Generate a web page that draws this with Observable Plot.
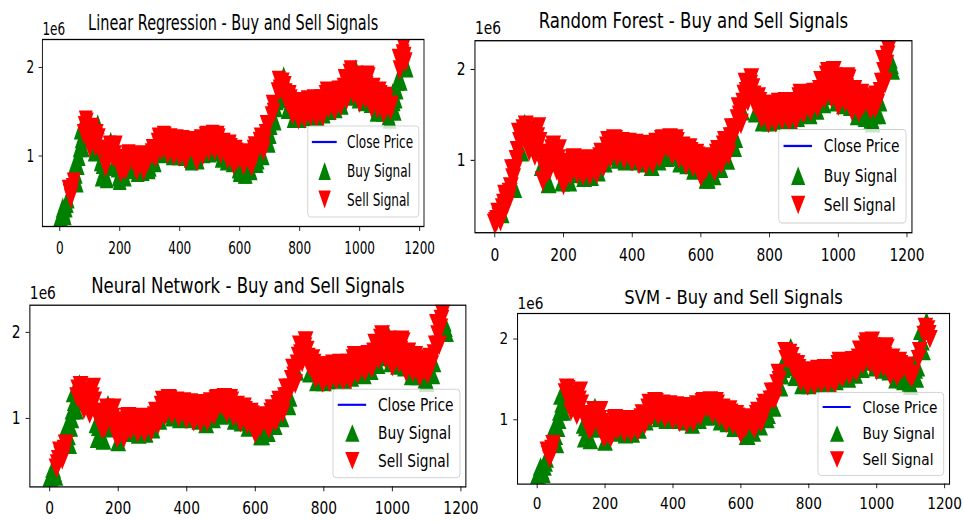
<!DOCTYPE html>
<html>
<head>
<meta charset="utf-8">
<script src="https://cdn.jsdelivr.net/npm/d3@7"></script>
<script src="https://cdn.jsdelivr.net/npm/@observablehq/plot@0.6"></script>
<style>
  body { margin: 0; background: #fff; }
  #fig { position: relative; width: 963px; height: 522px; overflow: hidden; background: #fff; font-family: "DejaVu Sans", sans-serif; }
  .panel { position: absolute; transform-origin: 0 0; }
  .panel svg { max-width: none !important; background: transparent !important; overflow: visible; }
</style>
</head>
<body>
<div id="fig"></div>
<script>
// ---- data: close price (units of 1e6): low, middle and high close in each 10-day window ----
const windowStep = 10;
const windowLow = [
  0.30, 0.33, 0.42, 0.52, 0.58, 0.70, 0.90, 1.10, 1.25, 1.20,
  1.10, 1.05, 1.10, 0.94, 0.77, 0.75, 0.89, 0.99, 0.89, 0.77,
  0.73, 0.77, 0.84, 0.86, 0.85, 0.83, 0.82, 0.83, 0.83, 0.85,
  0.88, 0.93, 0.98, 1.03, 1.06, 1.04, 1.02, 1.01, 1.00, 1.01,
  0.99, 1.00, 0.96, 0.98, 0.95, 0.94, 0.96, 1.00, 1.03, 1.05,
  1.04, 1.06, 1.05, 1.02, 0.98, 0.95, 0.96, 0.93, 0.90, 0.86,
  0.82, 0.80, 0.80, 0.84, 0.88, 0.92, 0.96, 1.01, 1.06, 1.15,
  1.25, 1.40, 1.55, 1.65, 1.75, 1.61, 1.53, 1.46, 1.43, 1.41,
  1.43, 1.42, 1.45, 1.44, 1.46, 1.43, 1.45, 1.44, 1.48, 1.53,
  1.52, 1.51, 1.54, 1.56, 1.58, 1.63, 1.68, 1.72, 1.69, 1.65,
  1.60, 1.62, 1.64, 1.60, 1.54, 1.50, 1.53, 1.50, 1.48, 1.46,
  1.42, 1.51, 1.65, 1.85, 2.05, 2.00
];
const windowMid = [
  0.32, 0.37, 0.47, 0.57, 0.64, 0.80, 1.00, 1.20, 1.34, 1.30,
  1.22, 1.18, 1.25, 1.07, 0.91, 0.87, 1.03, 1.09, 1.01, 0.87,
  0.81, 0.86, 0.93, 0.94, 0.93, 0.91, 0.90, 0.91, 0.90, 0.93,
  0.96, 1.01, 1.07, 1.12, 1.15, 1.13, 1.11, 1.11, 1.09, 1.10,
  1.08, 1.09, 1.06, 1.08, 1.04, 1.03, 1.06, 1.10, 1.13, 1.15,
  1.14, 1.16, 1.15, 1.11, 1.07, 1.04, 1.05, 1.01, 0.98, 0.95,
  0.91, 0.89, 0.88, 0.93, 0.97, 1.01, 1.06, 1.11, 1.16, 1.25,
  1.35, 1.49, 1.63, 1.75, 1.83, 1.71, 1.62, 1.56, 1.53, 1.51,
  1.53, 1.51, 1.55, 1.54, 1.56, 1.53, 1.55, 1.55, 1.59, 1.64,
  1.62, 1.61, 1.65, 1.66, 1.68, 1.76, 1.82, 1.86, 1.85, 1.79,
  1.73, 1.77, 1.79, 1.76, 1.67, 1.62, 1.64, 1.61, 1.59, 1.56,
  1.51, 1.62, 1.75, 1.97, 2.15, 2.06
];
const windowHigh = [
  0.34, 0.42, 0.52, 0.62, 0.70, 0.90, 1.10, 1.30, 1.40, 1.38,
  1.32, 1.30, 1.36, 1.20, 1.07, 1.02, 1.12, 1.16, 1.12, 0.97,
  0.90, 0.94, 1.01, 1.02, 1.01, 1.00, 0.98, 0.99, 0.98, 1.01,
  1.03, 1.08, 1.15, 1.21, 1.23, 1.22, 1.19, 1.20, 1.18, 1.19,
  1.17, 1.18, 1.15, 1.17, 1.13, 1.11, 1.15, 1.19, 1.22, 1.23,
  1.22, 1.24, 1.23, 1.20, 1.15, 1.12, 1.13, 1.09, 1.07, 1.04,
  1.01, 0.99, 0.98, 1.03, 1.07, 1.11, 1.16, 1.21, 1.25, 1.35,
  1.45, 1.58, 1.72, 1.85, 1.90, 1.79, 1.69, 1.64, 1.61, 1.59,
  1.61, 1.59, 1.63, 1.62, 1.64, 1.61, 1.63, 1.64, 1.69, 1.73,
  1.71, 1.69, 1.73, 1.74, 1.77, 1.87, 1.93, 1.97, 1.98, 1.91,
  1.85, 1.89, 1.91, 1.89, 1.77, 1.71, 1.73, 1.69, 1.67, 1.63,
  1.57, 1.71, 1.85, 2.10, 2.22, 2.12
];
// per window: B all buy, S all sell, M buy at low only, L buy at low+mid, N buy at high only
const signalsLR  = "BBBSSBBBSS" + "SMNMLMMNML" + "MMSMLSMLSM" + "LMSMSMSMSM" + "SMSMLSMSMS" + "MSMSMLSMSM" + "LMLMSMLMSL" + "LMLMNSMSMS" + "MSMSMSMSMS" + "MSMSMSMLNM" + "SMSMSMSMSM" + "MBBMSM";
const signalsRF  = "SSMSSMSMNS" + "SNSMSMSMSM" + "SMSMSSMSMS" + "MSMSMSMSMS" + "SMSMSMSMSM" + "MSMSMSMSMS" + "SMLMSMSMSM" + "MSMSSSMSMS" + "MSMSMSMSMS" + "SMSMSMSMSM" + "SMSMSMSMLM" + "LMMSSB";
const signalsNN  = "BBSSSBBBNS" + "SNSMLMSNMS" + "MSMSMSMSMS" + "MSMSMSMSMS" + "SMSMSMSMSM" + "MSMSMSMSMS" + "SMLMSMSMSM" + "MSMSSSMSMS" + "MSMSMSMSMS" + "SMSMSMSMNM" + "SMSMSMSMSM" + "MMMSSB";
const signalsSVM = "BBBSSBBBMS" + "SNSMLMSNMS" + "MSMSMSMSMS" + "MSMSMSMSMS" + "SMSMSMSMSM" + "MSMSMSMSMS" + "SMLMSMSMLM" + "SMBMNSMSMS" + "MSMSMSMSMS" + "SMSMSMSMSM" + "SMSMSMSMLM" + "MBMBNS";
const modelTitles = [
  "Linear Regression - Buy and Sell Signals",
  "Random Forest - Buy and Sell Signals",
  "Neural Network - Buy and Sell Signals",
  "SVM - Buy and Sell Signals"
];
const modelSignals = [signalsLR, signalsRF, signalsNN, signalsSVM];
const xTicks = [0, 200, 400, 600, 800, 1000, 1200];
const yTicks = [1, 2];
const yOffsetLabel = "1e6";
const legendLabels = ["Close Price", "Buy Signal", "Sell Signal"];
const lineColor = "blue", buyColor = "green", sellColor = "red";

// ---- layout ----
const baseW = 553, baseH = 187;          // frame size before panel scaling
const mL = 45, mR = 28, mT = 45, mB = 40;
const panelBoxes = [
  {left: 41.7, top: 39,    right: 423.3, bottom: 226,   titleGap: 10,   offGap: 4.7},
  {left: 475,  top: 40,    right: 912,   bottom: 232,   titleGap: 12.4, offGap: 6.5},
  {left: 29.7, top: 305,   right: 465.7, bottom: 486.7, titleGap: 13,   offGap: 6.9},
  {left: 517.3,top: 312.7, right: 949.3, bottom: 483.3, titleGap: 10.3, offGap: 4.8}
];

// three closes per window, ordered alternately so the line zigzags as little as possible
const points = [];
windowLow.forEach((lo, i) => {
  const trio = [{price: lo, kind: "low"}, {price: windowMid[i], kind: "mid"}, {price: windowHigh[i], kind: "high"}];
  if (i % 2 === 1) trio.reverse();
  trio.forEach((p, j) => points.push({day: i * windowStep + j * windowStep / 3, price: p.price, kind: p.kind, w: i}));
});
const allDays = points.map(d => d.day);
const allPrices = points.map(d => d.price);
const xmin = d3.min(allDays), xmax = d3.max(allDays);
const ymin = d3.min(allPrices), ymax = d3.max(allPrices);
const xDomain = [xmin - 0.05 * (xmax - xmin), xmax + 0.05 * (xmax - xmin)];
const yDomain = [ymin - 0.05 * (ymax - ymin), ymax + 0.05 * (ymax - ymin)];

function signalOf(code, kind) {
  switch (code) {
    case "B": return "buy";
    case "S": return "sell";
    case "M": return kind === "low" ? "buy" : "sell";
    case "L": return kind === "high" ? "sell" : "buy";
    default:  return kind === "high" ? "buy" : "sell";
  }
}

const triUp = {draw(ctx, size) { const r = Math.sqrt(size / Math.PI); ctx.moveTo(0, -r); ctx.lineTo(r, r); ctx.lineTo(-r, r); ctx.closePath(); }};
const triDown = {draw(ctx, size) { const r = Math.sqrt(size / Math.PI); ctx.moveTo(0, r); ctx.lineTo(r, -r); ctx.lineTo(-r, -r); ctx.closePath(); }};
const markerR = 10;
const fontSize = 17.5;

function legendMark(...args) {
  const dim = args.find(a => a && a.marginLeft !== undefined && a.width !== undefined);
  const fr = dim.width - dim.marginRight, fb = dim.height - dim.marginBottom;
  const bw = 161, bh = 91;
  const x0 = fr - 7 - bw, y0 = fb - 9 - bh;
  const g = d3.create("svg:g");
  g.append("rect").attr("x", x0).attr("y", y0).attr("width", bw).attr("height", bh)
    .attr("rx", 4).attr("fill", "white").attr("fill-opacity", 0.8).attr("stroke", "#cccccc");
  const rows = [16, 45, 73.5];
  g.append("line").attr("x1", x0 + 6).attr("x2", x0 + 42).attr("y1", y0 + rows[0]).attr("y2", y0 + rows[0])
    .attr("stroke", lineColor).attr("stroke-width", 2.2);
  const sym = d3.symbol().size(9 * 9 * Math.PI);
  g.append("path").attr("d", sym.type(triUp)()).attr("transform", `translate(${x0 + 24.5},${y0 + rows[1]})`).attr("fill", buyColor);
  g.append("path").attr("d", sym.type(triDown)()).attr("transform", `translate(${x0 + 24.5},${y0 + rows[2]})`).attr("fill", sellColor);
  legendLabels.forEach((t, i) => {
    g.append("text").attr("x", x0 + 57).attr("y", y0 + rows[i]).attr("dy", "0.35em")
      .attr("text-anchor", "start").attr("font-size", fontSize).attr("fill", "black").text(t);
  });
  return g.node();
}

const fig = document.getElementById("fig");
panelBoxes.forEach((box, k) => {
  const sx = (box.right - box.left) / baseW;
  const sy = (box.bottom - box.top) / baseH;
  const sig = modelSignals[k];
  const pts = points.map(d => ({...d, signal: signalOf(sig[d.w], d.kind)}));
  const buys = pts.filter(d => d.signal === "buy");
  const sells = pts.filter(d => d.signal === "sell");
  const chart = Plot.plot({
    width: mL + baseW + mR,
    height: mT + baseH + mB,
    marginLeft: mL, marginRight: mR, marginTop: mT, marginBottom: mB,
    style: {fontFamily: "DejaVu Sans", fontSize: fontSize + "px", color: "black", background: "transparent", overflow: "visible"},
    x: {domain: xDomain, ticks: xTicks, tickSize: 5, tickPadding: 10, tickFormat: d => String(d), label: null},
    y: {domain: yDomain, ticks: yTicks, tickSize: 5, tickPadding: 7, tickFormat: d => String(d), label: null},
    marks: [
      Plot.line(points, {x: "day", y: "price", stroke: lineColor, strokeWidth: 1.2, clip: true}),
      Plot.dot(buys, {x: "day", y: "price", symbol: triUp, r: markerR, fill: buyColor, stroke: "none", clip: true}),
      Plot.dot(sells, {x: "day", y: "price", symbol: triDown, r: markerR, fill: sellColor, stroke: "none", clip: true}),
      Plot.frame({stroke: "black", strokeWidth: 1.3}),
      Plot.text([modelTitles[k]], {text: d => d, frameAnchor: "top", lineAnchor: "bottom", dy: -box.titleGap, fontSize: 21, fill: "black"}),
      Plot.text([yOffsetLabel], {text: d => d, frameAnchor: "top-left", textAnchor: "start", lineAnchor: "bottom", dy: -box.offGap, fontSize: fontSize, fill: "black"}),
      legendMark
    ]
  });
  const div = document.createElement("div");
  div.className = "panel";
  div.style.left = (box.left - mL * sx) + "px";
  div.style.top = (box.top - mT * sy) + "px";
  div.style.width = (mL + baseW + mR) + "px";
  div.style.transform = `scale(${sx}, ${sy})`;
  chart.style.maxWidth = "none";
  chart.style.background = "transparent";
  div.appendChild(chart);
  fig.appendChild(div);
});
</script>
</body>
</html>
